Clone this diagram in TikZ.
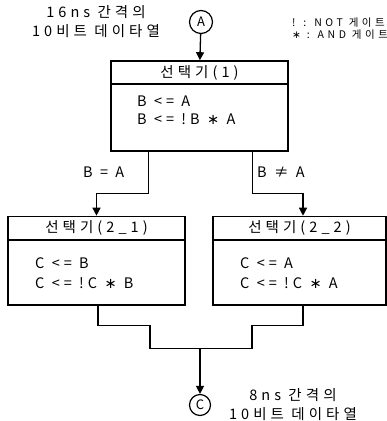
\documentclass[tikz,border=0pt]{standalone}
\usepackage{fontspec}
\setmainfont{Noto Sans CJK KR}[LetterSpace=28]
\newfontfamily\symfont{DejaVu Sans}
\newcommand{\andop}{{\symfont ∗}}
\usetikzlibrary{arrows.meta}

\begin{document}
\begin{tikzpicture}[x=1pt,y=-1pt,
    selhead/.style={draw,line width=1.6pt,minimum width=177pt,minimum height=23pt,inner sep=0,font=\fontsize{14.5}{14.5}\selectfont},
    selbody/.style={draw,line width=1.6pt,minimum width=177pt,inner sep=0},
    codetext/.style={anchor=west,inner sep=0,font=\fontsize{14.5}{14.5}\selectfont},
    legendtext/.style={anchor=west,inner sep=0,font=\fontsize{10.5}{10.5}\selectfont\addfontfeature{LetterSpace=34}},
    infotext/.style={inner sep=0,align=center,font=\fontsize{14.5}{19}\selectfont},
    port/.style={draw,circle,line width=1.2pt,minimum size=23pt,inner sep=0,font=\fontsize{13}{13}\selectfont},
    wire/.style={line width=1.3pt},
    arr/.style={wire,-{Triangle[length=8pt,width=8pt]}}]
    \useasboundingbox (0,0) rectangle (387,421);
    % inputs and legend
    \node[port] (A) at (201,22) {A};
    \node[infotext] (intxt) at (96,22) {16ns 간격의\\10비트 데이타열};
    \node[legendtext] (lgnot) at (292,23) {! : NOT 게이트};
    \node[legendtext] (lgand) at (292,35) {\andop\ : AND 게이트};
    % selector 1
    \node[selhead] (head1) at (199.5,72.5) {선택기(1)};
    \node[selbody,minimum height=67pt] (body1) at (199.5,117.5) {};
    \node[codetext] (c11) at (137,101) {B <= A};
    \node[codetext] (c12) at (137,119) {B <= !B \andop\ A};
    \draw[arr] (A) -- (head1);
    % selectors 2
    \node[selhead] (head21) at (96.5,228) {선택기(2\_1)};
    \node[selbody,minimum height=65pt] (body21) at (96.5,272.5) {};
    \node[codetext] (c21) at (35,263) {C <= B};
    \node[codetext] (c22) at (35,283) {C <= !C \andop\ B};
    \node[selhead,minimum width=173pt] (head22) at (299.5,228) {선택기(2\_2)};
    \node[selbody,minimum width=173pt,minimum height=65pt] (body22) at (299.5,272.5) {};
    \node[codetext] (c31) at (240,263) {C <= A};
    \node[codetext] (c32) at (240,283) {C <= !C \andop\ A};
    % branches
    \draw[arr] (body1.south west) ++(38,0) -- ++(0,42) -| (head21.north);
    \draw[arr] (body1.south east) ++(-36,0) -- ++(0,42) -| ([xshift=3.5pt]head22.north);
    \node[codetext] (eq) at (83,172) {B = A};
    \node[codetext] (neq) at (257,172) {B ≠ A};
    % merge
    \draw[wire] (body21.south) ++(1.5,0) -- ++(0,20) -- ++(52,0) -- ++(0,23)
        -- ++(50,0) coordinate (mrg) -- ++(52,0) -- ++(0,-23) -| ([xshift=3.5pt]body22.south);
    \node[port,minimum size=21pt] (C) at (200,405) {C};
    \draw[arr] (mrg) -- (C);
    \node[infotext] (outtxt) at (293,405) {8ns 간격의\\10비트 데이타열};
\end{tikzpicture}
\end{document}
